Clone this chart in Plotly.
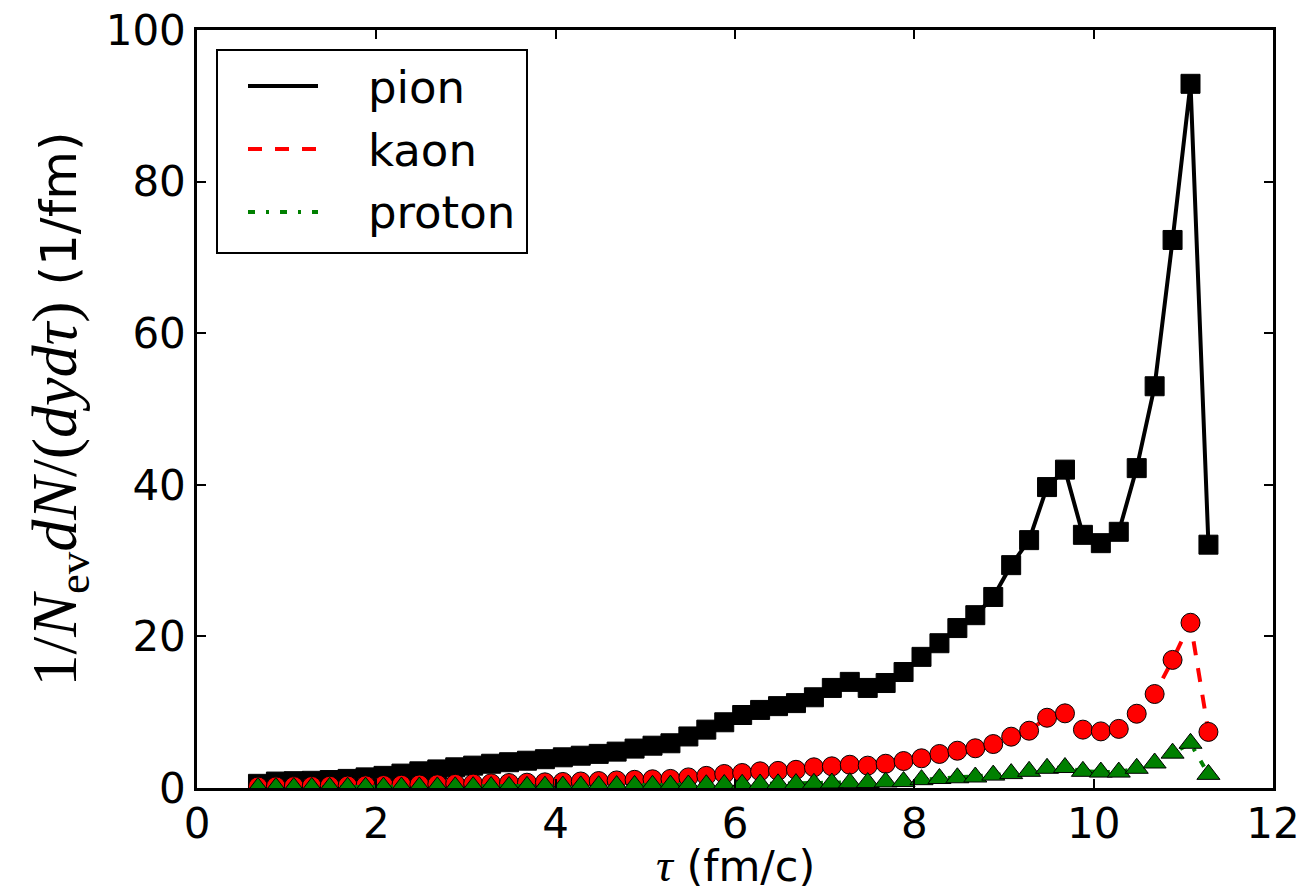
import plotly.graph_objects as go

# tau grid (fm/c)
tau = [0.68, 0.88, 1.08, 1.28, 1.48, 1.68, 1.88, 2.08, 2.28, 2.48,
       2.68, 2.88, 3.08, 3.28, 3.48, 3.68, 3.88, 4.08, 4.28, 4.48,
       4.68, 4.88, 5.08, 5.28, 5.48, 5.68, 5.88, 6.08, 6.28, 6.48,
       6.68, 6.88, 7.08, 7.28, 7.48, 7.68, 7.88, 8.08, 8.28, 8.48,
       8.68, 8.88, 9.08, 9.28, 9.48, 9.68, 9.88, 10.08, 10.28, 10.48,
       10.68, 10.88, 11.08, 11.28]

pion = [0.55, 0.85, 0.9, 0.95, 1.05, 1.2, 1.4, 1.6, 1.9, 2.2,
        2.45, 2.73, 2.95, 3.2, 3.4, 3.6, 3.8, 4.05, 4.26, 4.5,
        4.8, 5.2, 5.58, 5.9, 6.8, 7.7, 8.67, 9.63, 10.3, 10.8,
        11.2, 11.97, 13.2, 14.0, 13.2, 13.85, 15.3, 17.3, 19.1, 21.1,
        22.8, 25.2, 29.4, 32.7, 39.7, 42.0, 33.4, 32.3, 33.8, 42.2,
        53.0, 72.3, 92.9, 32.1]

kaon = [0.2, 0.22, 0.25, 0.27, 0.3, 0.33, 0.36, 0.4, 0.43, 0.47,
        0.5, 0.55, 0.58, 0.62, 0.66, 0.7, 0.75, 0.8, 0.86, 0.92,
        1.0, 1.08, 1.15, 1.2, 1.4, 1.6, 1.85, 1.98, 2.2, 2.26,
        2.4, 2.73, 2.86, 3.07, 2.95, 3.2, 3.56, 3.92, 4.49, 4.92,
        5.24, 5.8, 6.77, 7.56, 9.27, 9.85, 7.7, 7.47, 7.8, 9.8,
        12.4, 16.9, 21.8, 7.4]

proton = [0.05, 0.06, 0.07, 0.08, 0.09, 0.1, 0.11, 0.12, 0.13, 0.14,
          0.15, 0.16, 0.18, 0.19, 0.2, 0.22, 0.24, 0.26, 0.28, 0.3,
          0.32, 0.34, 0.36, 0.38, 0.4, 0.43, 0.46, 0.49, 0.52, 0.55,
          0.58, 0.62, 0.66, 0.7, 0.72, 0.8, 0.85, 1.1, 1.25, 1.35,
          1.45, 1.7, 1.9, 2.2, 2.6, 2.7, 2.2, 2.1, 2.1, 2.6,
          3.3, 4.6, 5.9, 1.8]

x_ticks = [0, 2, 4, 6, 8, 10, 12]
y_ticks = [0, 20, 40, 60, 80, 100]

series = [
    ("pion", pion, "black", "solid", "square", 19),
    ("kaon", kaon, "#ff0000", "14px,13px", "circle", 19),
    ("proton", proton, "#008000", "7px,11px,3px,11px", "triangle-up", 20),
]

fig = go.Figure()
for name, vals, col, dash, sym, size in series:
    fig.add_trace(go.Scatter(
        x=tau, y=vals, name=name, mode="lines+markers",
        line=dict(color=col, width=4, dash=dash),
        marker=dict(symbol=sym, size=size, color=col,
                    line=dict(color="black", width=1)),
        showlegend=False, cliponaxis=True,
    ))

tickfont = dict(family="DejaVu Sans", size=42, color="black")
axis_common = dict(
    showgrid=False, zeroline=False, showline=True, linecolor="black",
    linewidth=2.5, mirror="allticks", ticks="inside", ticklen=9,
    tickwidth=1.5, tickcolor="black", tickfont=tickfont, automargin=False,
)

PL, PR, PT, PB = 197, 1273, 30, 788

def fx(p):
    return (p - PL) / (PR - PL)
def fy(p):
    return (PB - p) / (PB - PT)

fig.update_layout(
    width=1309, height=890,
    margin=dict(l=PL, r=1309 - PR, t=PT, b=890 - PB),
    paper_bgcolor="white", plot_bgcolor="white",
    xaxis=dict(range=[0, 12], tickvals=x_ticks,
               ticktext=[str(v) for v in x_ticks],
               ticklabelstandoff=-3,
               **axis_common),
    yaxis=dict(range=[0, 100], tickvals=y_ticks,
               ticktext=[str(v) for v in y_ticks],
               title=dict(text="<span style='font-family:Liberation Serif;font-size:64px'>1/<i>N</i><sub>ev</sub><i>dN</i>/(<i>dyd</i><i>τ</i>)</span> (1/fm)",
                          font=dict(family="DejaVu Sans", size=50, color="black"),
                          standoff=14),
               **axis_common),
    showlegend=False,
)

# x-axis title
fig.add_annotation(xref="paper", yref="paper", x=fx(735), y=fy(893),
                   xanchor="center", yanchor="bottom", showarrow=False,
                   text="<span style='font-family:Liberation Serif;font-size:47px'><i>τ</i></span> (fm/c)",
                   font=dict(family="DejaVu Sans", size=43, color="black"))

# legend box (drawn manually to match the long line samples)
fig.add_shape(type="rect", xref="paper", yref="paper",
              x0=fx(217), x1=fx(527), y0=fy(253), y1=fy(50),
              line=dict(color="black", width=2), fillcolor="white", layer="above")
line_rows = [86, 149, 212]
text_rows = [88, 150, 212]
for (name, vals, col, dash, sym, size), ly, ty in zip(series, line_rows, text_rows):
    fig.add_shape(type="line", xref="paper", yref="paper",
                  x0=fx(248), x1=fx(318), y0=fy(ly), y1=fy(ly),
                  line=dict(color=col, width=4, dash=dash), layer="above")
    fig.add_annotation(xref="paper", yref="paper", x=fx(366), y=fy(ty),
                       text=name, showarrow=False, xanchor="left", yanchor="middle",
                       font=dict(family="DejaVu Sans", size=45, color="black"))

fig.write_html("out.html")
